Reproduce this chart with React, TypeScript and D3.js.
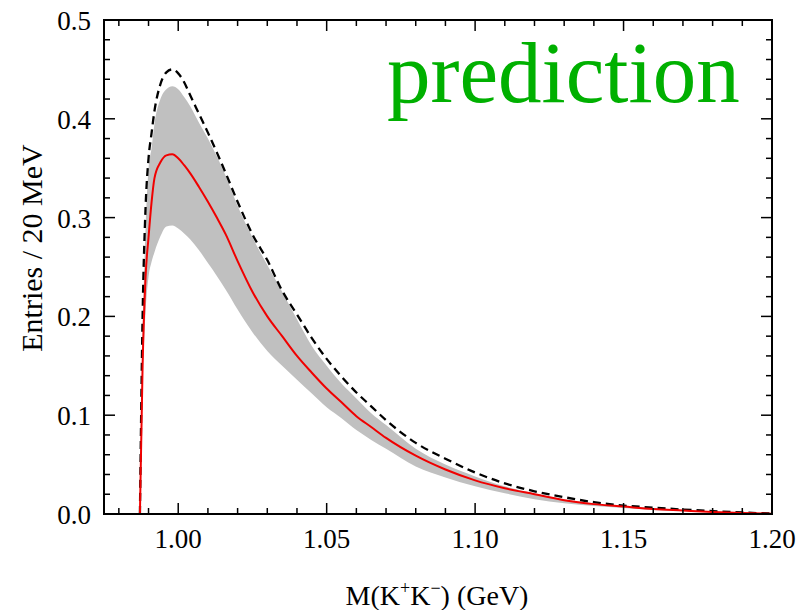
import React from "react";
import * as d3 from "d3";

// Invariant mass grid (GeV)
const mass = [
  0.9871, 0.988, 0.989, 0.99, 0.991, 0.992, 0.994, 0.996, 0.998, 1.0, 1.002, 1.004, 1.007, 1.01,
  1.013, 1.016, 1.02, 1.025, 1.03, 1.035, 1.04, 1.045, 1.05, 1.055, 1.06, 1.065, 1.07, 1.08,
  1.09, 1.1, 1.11, 1.12, 1.13, 1.14, 1.15, 1.16, 1.17, 1.18, 1.19, 1.2,
];

// Central prediction (red)
const central = [
  0, 0.15, 0.24, 0.28, 0.315, 0.34, 0.356, 0.363, 0.364, 0.36, 0.353, 0.345, 0.331, 0.316,
  0.3, 0.283, 0.256, 0.225, 0.2, 0.18, 0.16, 0.143, 0.127, 0.113, 0.099, 0.088, 0.077, 0.059,
  0.045, 0.034, 0.026, 0.02, 0.014, 0.01, 0.0075, 0.005, 0.0035, 0.002, 0.001, 0.0003,
];

// Dashed black curve
const dashed = [
  0, 0.2, 0.31, 0.36, 0.385, 0.408, 0.435, 0.447, 0.45, 0.446, 0.437, 0.424, 0.405, 0.386,
  0.366, 0.345, 0.316, 0.283, 0.257, 0.226, 0.202, 0.178, 0.157, 0.139, 0.123, 0.109, 0.095,
  0.072, 0.056, 0.042, 0.031, 0.023, 0.017, 0.012, 0.0085, 0.0065, 0.0045, 0.003, 0.0015, 0.0005,
];

// Uncertainty band (grey)
const bandHigh = [
  0, 0.18, 0.29, 0.35, 0.37, 0.395, 0.42, 0.43, 0.433, 0.43, 0.422, 0.413, 0.396, 0.38,
  0.362, 0.342, 0.312, 0.28, 0.252, 0.225, 0.197, 0.17, 0.15, 0.132, 0.117, 0.102, 0.09, 0.066,
  0.05, 0.038, 0.028, 0.021, 0.015, 0.011, 0.008, 0.006, 0.004, 0.0025, 0.0012, 0.0004,
];
const bandLow = [
  0, 0.13, 0.205, 0.24, 0.255, 0.265, 0.281, 0.291, 0.292, 0.289, 0.284, 0.278, 0.267, 0.254,
  0.241, 0.227, 0.207, 0.184, 0.165, 0.15, 0.136, 0.122, 0.108, 0.097, 0.085, 0.075, 0.066,
  0.048, 0.037, 0.028, 0.021, 0.015, 0.011, 0.008, 0.006, 0.004, 0.003, 0.002, 0.001, 0.0002,
];

const xMajor = [1.0, 1.05, 1.1, 1.15, 1.2];
const xTickLabels = ["1.00", "1.05", "1.10", "1.15", "1.20"];
const yMajor = [0, 0.1, 0.2, 0.3, 0.4, 0.5];
const yTickLabels = ["0.0", "0.1", "0.2", "0.3", "0.4", "0.5"];

const W = 799;
const H = 610;
const L = 104;
const R = 772;
const T = 20;
const B = 514;
const FONT = "'Liberation Serif', 'Times New Roman', serif";

export default function App() {
  const x = d3.scaleLinear().domain([0.975, 1.2]).range([L, R]);
  const y = d3.scaleLinear().domain([0, 0.5]).range([B, T]);

  const idx = mass.map((_, i) => i);
  const area = d3
    .area<number>()
    .x((i) => x(mass[i]))
    .y0((i) => y(bandLow[i]))
    .y1((i) => y(bandHigh[i]))
    .curve(d3.curveMonotoneX);
  const lineC = d3
    .line<number>()
    .x((i) => x(mass[i]))
    .y((i) => y(central[i]))
    .curve(d3.curveMonotoneX);
  const lineD = d3
    .line<number>()
    .x((i) => x(mass[i]))
    .y((i) => y(dashed[i]))
    .curve(d3.curveMonotoneX);

  const xMinor = d3.range(98, 121).map((v) => v / 100);
  const yMinor = d3.range(0, 26).map((v) => v / 50);
  const isMajorX = (v: number) => xMajor.some((m) => Math.abs(m - v) < 1e-6);
  const isMajorY = (v: number) => yMajor.some((m) => Math.abs(m - v) < 1e-6);

  return (
    <div style={{ position: "absolute", left: 0, top: 0 }}>
      <svg width={W} height={H} style={{ display: "block", background: "#fff" }}>
        <defs>
          <clipPath id="plotclip">
            <rect x={L} y={T} width={R - L} height={B - T} />
          </clipPath>
        </defs>
        <g clipPath="url(#plotclip)">
          <path d={area(idx) || ""} fill="#c0c0c0" stroke="none" />
          <path d={lineD(idx) || ""} fill="none" stroke="#000" strokeWidth={2.3} strokeDasharray="8,5" />
          <path d={lineC(idx) || ""} fill="none" stroke="#f00000" strokeWidth={2} />
        </g>

        {/* ticks */}
        {xMinor.map((v) => {
          const len = isMajorX(v) ? 11 : 6;
          return (
            <g key={"xt" + v}>
              <line x1={x(v)} x2={x(v)} y1={B} y2={B - len} stroke="#000" strokeWidth={1.5} />
              <line x1={x(v)} x2={x(v)} y1={T} y2={T + len} stroke="#000" strokeWidth={1.5} />
            </g>
          );
        })}
        {yMinor.map((v) => {
          const len = isMajorY(v) ? 11 : 6;
          return (
            <g key={"yt" + v}>
              <line x1={L} x2={L + len} y1={y(v)} y2={y(v)} stroke="#000" strokeWidth={1.5} />
              <line x1={R} x2={R - len} y1={y(v)} y2={y(v)} stroke="#000" strokeWidth={1.5} />
            </g>
          );
        })}
        <rect x={L} y={T} width={R - L} height={B - T} fill="none" stroke="#000" strokeWidth={2} />

        {/* tick labels */}
        {xMajor.map((v, i) => (
          <text
            key={"xl" + v}
            x={x(v)}
            y={548}
            textAnchor="middle"
            fontFamily={FONT}
            fontSize={27}
            fill="#000"
          >
            {xTickLabels[i]}
          </text>
        ))}
        {yMajor.map((v, i) => (
          <text
            key={"yl" + v}
            x={91}
            y={y(v) + 10}
            textAnchor="end"
            fontFamily={FONT}
            fontSize={27}
            fill="#000"
          >
            {yTickLabels[i]}
          </text>
        ))}

        {/* axis titles */}
        <text
          transform={`translate(42,248) rotate(-90)`}
          textAnchor="middle"
          fontFamily={FONT}
          fontSize={30}
          fill="#000"
        >
          Entries / 20 MeV
        </text>
        <text x={437} y={605} textAnchor="middle" fontFamily={FONT} fontSize={28} fill="#000">
          M(K
          <tspan dy={-11} fontSize={18}>+</tspan>
          <tspan dy={11}>K</tspan>
          <tspan dy={-11} fontSize={18}>−</tspan>
          <tspan dy={11}>) (GeV)</tspan>
        </text>

        <text x={387} y={102} fontFamily={FONT} fontSize={87} fill="#00b000">
          prediction
        </text>
      </svg>
    </div>
  );
}
